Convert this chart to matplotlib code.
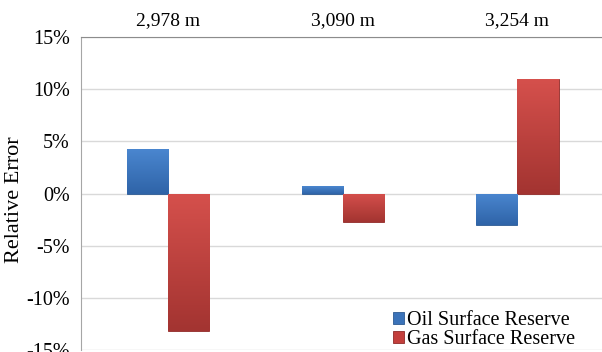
import numpy as np
import matplotlib.pyplot as plt
from matplotlib.colors import LinearSegmentedColormap
from matplotlib.ticker import FuncFormatter

depths = ['2,978 m', '3,090 m', '3,254 m']
oil_error = [4.3, 0.7, -3.0]
gas_error = [-13.2, -2.7, 11.0]
series_names = ['Oil Surface Reserve', 'Gas Surface Reserve']

plt.rcParams['font.family'] = ['Liberation Serif', 'DejaVu Serif']

fig = plt.figure(figsize=(6.02, 3.52), dpi=100)
ax = fig.add_axes([0.1346, 0.0057, 0.87, 0.889])

x = np.arange(len(depths))
w = 0.235
oil_bars = ax.bar(x - w / 2, oil_error, w, color='#3b73b9', edgecolor='#2d5a92',
                  linewidth=0.6, label=series_names[0], zorder=3)
gas_bars = ax.bar(x + w / 2, gas_error, w, color='#c33f3c', edgecolor='#8f2b29',
                  linewidth=0.6, label=series_names[1], zorder=3)

# vertical gradient fill for each bar, clipped to the bar shape
blue_map = LinearSegmentedColormap.from_list('b', ['#4a86cf', '#2f64a8'])
red_map = LinearSegmentedColormap.from_list('r', ['#d5504c', '#a33431'])
grad = np.linspace(0, 1, 64).reshape(-1, 1)
for bars, cmap in ((oil_bars, blue_map), (gas_bars, red_map)):
    for b in bars:
        x0, y0 = b.get_x(), b.get_y()
        x1, y1 = x0 + b.get_width(), y0 + b.get_height()
        lo, hi = min(y0, y1), max(y0, y1)
        im = ax.imshow(grad, cmap=cmap, aspect='auto', origin='upper',
                       extent=(x0, x1, lo, hi), zorder=3.5)
        im.set_clip_path(b)

ax.set_xlim(-0.5, 2.5)
ax.set_ylim(-15, 15)
ax.set_yticks(np.arange(-15, 16, 5))
ax.yaxis.set_major_formatter(FuncFormatter(lambda v, p: '%d%%' % v))
ax.grid(axis='y', color='#d9d9d9', linewidth=1, zorder=0)
ax.set_axisbelow(True)

ax.xaxis.tick_top()
ax.set_xticks(x)
ax.set_xticklabels(depths)
ax.tick_params(axis='x', length=0, pad=6, labelsize=14)
ax.tick_params(axis='y', length=0, pad=8, labelsize=14.5)

for s in ('right', 'bottom'):
    ax.spines[s].set_visible(False)
ax.spines['left'].set_color('#a6a6a6')
ax.spines['top'].set_color('#8c8c8c')

ax.set_ylabel('Relative Error', fontsize=16)
ax.yaxis.set_label_coords(-0.109, 0.48)

fig.legend(handles=[oil_bars, gas_bars], labels=series_names,
           loc='lower right', bbox_to_anchor=(0.955, 0.008), fontsize=14.5,
           frameon=False, handlelength=0.55, handleheight=0.55,
           handletextpad=0.15, labelspacing=0.0, borderaxespad=0,
           borderpad=0)

fig.savefig('out.png', dpi=100)
